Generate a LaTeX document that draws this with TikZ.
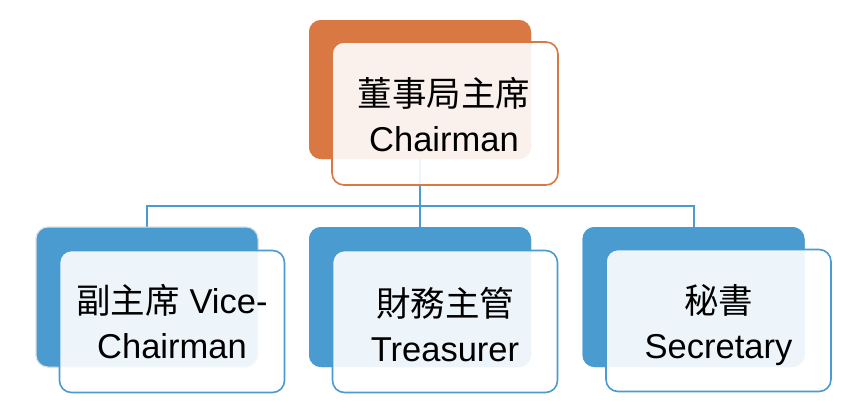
\documentclass[tikz,border=0pt]{standalone}
\usepackage{fontspec}
\setmainfont{Liberation Sans}
\newfontfamily\cjk{Noto Sans CJK TC}
\definecolor{orgA}{HTML}{DA7843}
\definecolor{bluA}{HTML}{4A9CD0}
\begin{document}
\begin{tikzpicture}[x=1pt,y=-1pt,
  backbox/.style={rectangle, rounded corners=12pt, inner sep=0pt, minimum width=222pt, minimum height=140pt},
  frontbox/.style={rectangle, rounded corners=12pt, inner sep=0pt, minimum width=225pt, minimum height=142pt,
     fill=white, fill opacity=0.9, line width=1.6pt},
  txt/.style={inner sep=0pt, align=center, font=\fontsize{34.5}{45}\selectfont},
  conn/.style={draw=bluA, line width=2pt}]
\useasboundingbox (0,0) rectangle (860,416);
% back boxes
\node[backbox, fill=orgA, minimum height=139pt] (tb) at (420,89.5) {};
\node[backbox, fill=bluA, draw=black!12, line width=1pt] (lb) at (147,297) {};
\node[backbox, fill=bluA] (mb) at (420,297) {};
\node[backbox, fill=bluA] (rb) at (693.5,297) {};
% connectors
\coordinate (jy) at (0,206);
\draw[conn] (tb) -- (tb |- jy) -| (lb);
\draw[conn] (tb |- jy) -| (mb);
\draw[conn] (tb |- jy) -| (rb);
% redraw back boxes over connectors
\node[backbox, fill=orgA, minimum height=139pt] at (tb) {};
\node[backbox, fill=bluA, draw=black!12, line width=1pt] at (lb) {};
\node[backbox, fill=bluA] at (mb) {};
\node[backbox, fill=bluA] at (rb) {};
% front boxes
\node[frontbox, draw=orgA, minimum width=226pt, minimum height=143pt] (tf) at (445,113.5) {};
\node[frontbox, draw=bluA] (lf) at (172,321.5) {};
\node[frontbox, draw=bluA] (mf) at (445,321.5) {};
\node[frontbox, draw=bluA] (rf) at (718.5,320.5) {};
% texts
\node[txt] (tt) at ([xshift=-1pt,yshift=-1.5pt]tf.center) {{\cjk 董事局主席}\\Chairman};
\node[txt] (lt) at (lf.center) {{\cjk 副主席} Vice-\\Chairman};
\node[txt] (mt) at ([yshift=-3pt]mf.center) {{\cjk 財務主管}\\Treasurer};
\node[txt] (rt) at ([yshift=-5pt]rf.center) {{\cjk 秘書}\\Secretary};
\end{tikzpicture}
\end{document}
